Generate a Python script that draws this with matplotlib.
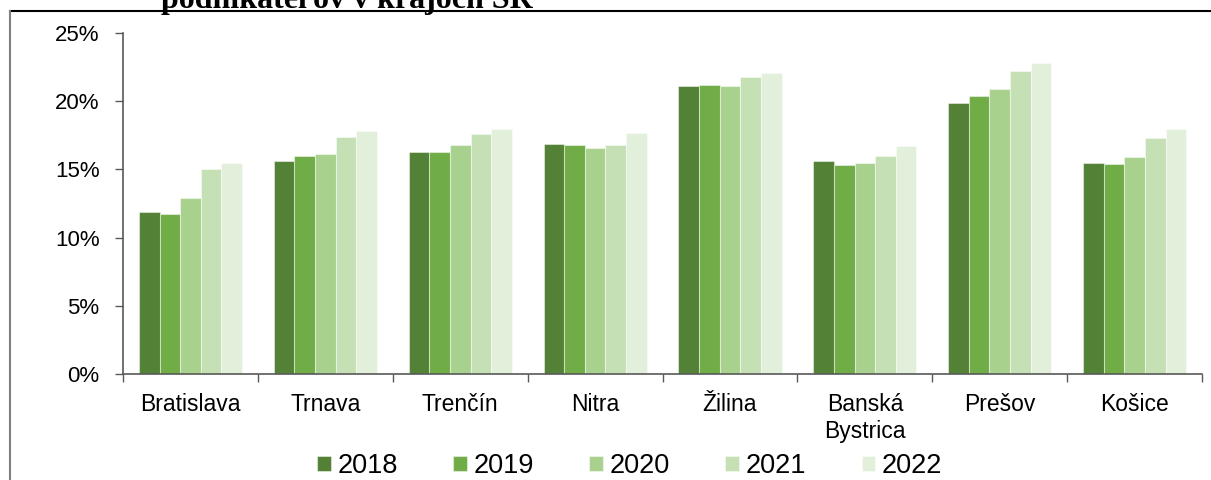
"""Podiel podnikateľov v krajoch SR, 2018-2022."""

import matplotlib
matplotlib.use('Agg')
import matplotlib.pyplot as plt
import numpy as np
from matplotlib.lines import Line2D
from matplotlib.ticker import FuncFormatter, FixedLocator

plt.rcParams['font.family'] = ['Liberation Sans', 'DejaVu Sans']

regions = ['Bratislava', 'Trnava', 'Trenčín', 'Nitra', 'Žilina',
           'Banská\nBystrica', 'Prešov', 'Košice']
years = ['2018', '2019', '2020', '2021', '2022']

# values in %
v2018 = [11.9, 15.6, 16.3, 16.9, 21.1, 15.6, 19.9, 15.5]
v2019 = [11.7, 16.0, 16.3, 16.8, 21.2, 15.3, 20.4, 15.4]
v2020 = [12.9, 16.1, 16.8, 16.6, 21.1, 15.5, 20.9, 15.9]
v2021 = [15.0, 17.4, 17.6, 16.8, 21.8, 16.0, 22.2, 17.3]
v2022 = [15.5, 17.8, 18.0, 17.7, 22.1, 16.7, 22.8, 18.0]
series = [v2018, v2019, v2020, v2021, v2022]

colors = ['#538135', '#70AD47', '#A9D18E', '#C5E0B4', '#E2EFDA']

fig = plt.figure(figsize=(12.11, 4.8), dpi=100)
ax = fig.add_axes([0.1016, 0.2208, 0.891, 0.7104])

x = np.arange(len(regions))
width = 0.153
for i, (vals, col, yr) in enumerate(zip(series, colors, years)):
    ax.bar(x + (i - 2) * width, vals, width=width, color=col,
           edgecolor=(1, 1, 1, 0.45), linewidth=0.8, label=yr, zorder=2)

ax.set_xlim(-0.5, len(regions) - 0.5)
ax.set_ylim(0, 25)
ax.set_yticks([0, 5, 10, 15, 20, 25])
ax.yaxis.set_major_formatter(FuncFormatter(lambda v, _: f'{v:.0f}%'))

ax.set_xticks(x)
ax.set_xticklabels(regions)
ax.xaxis.set_minor_locator(FixedLocator(np.arange(-0.5, len(regions), 1.0)))
ax.tick_params(axis='x', which='major', length=0, pad=14, labelsize=16.5)
ax.tick_params(axis='x', which='minor', length=6, width=1, color='#595959',
               direction='out')
ax.tick_params(axis='y', length=6, width=1, color='#595959', pad=11,
               labelsize=16)

for side in ('top', 'right'):
    ax.spines[side].set_visible(False)
for side in ('left', 'bottom'):
    ax.spines[side].set_color('#595959')
    ax.spines[side].set_linewidth(1.2)

ax.legend(loc='center', bbox_to_anchor=(0.52, 0.029),
          bbox_transform=fig.transFigure, ncol=5, frameon=False,
          fontsize=19.5, handlelength=0.5, handleheight=0.5,
          handletextpad=0.25, columnspacing=2.05, borderaxespad=0)

# frame around the original figure, cropped on the right and bottom
fig.add_artist(Line2D([10 / 1211, 1.0], [1 - 11 / 480] * 2,
                      transform=fig.transFigure, color='black', lw=1.5))
fig.add_artist(Line2D([10 / 1211] * 2, [0.0, 1 - 11 / 480],
                      transform=fig.transFigure, color='#7f7f7f', lw=1.5))

# second line of the title, cut off at the top of the picture
fig.text(347 / 1211, 1 - 8 / 480, 'podnikateľov v krajoch SR',
         ha='center', va='baseline', fontsize=23, fontweight='bold',
         family=['Liberation Serif', 'DejaVu Serif'])

fig.savefig('out.png', dpi=100)
